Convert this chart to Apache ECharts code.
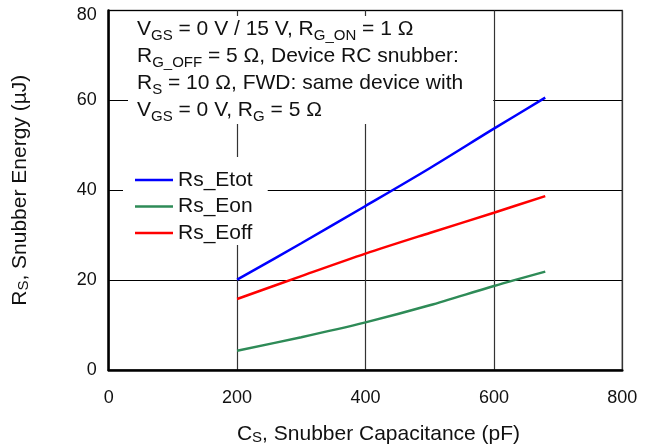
<!DOCTYPE html>
<html>
<head>
<meta charset="utf-8">
<script src="https://cdn.jsdelivr.net/npm/echarts@6/dist/echarts.min.js"></script>
<style>html,body{margin:0;padding:0;background:#fff}#c{width:648px;height:446px}</style>
</head>
<body>
<div id="c"></div>
<script>
const capacitance = [200, 300, 400, 500, 600, 680];
const rsEtot = [20.1, 28.2, 36.5, 44.9, 53.7, 60.6];
const rsEon  = [4.3, 7.3, 10.6, 14.4, 18.7, 21.9];
const rsEoff = [15.8, 20.9, 25.9, 30.5, 35.0, 38.7];
const xTicks = [0, 200, 400, 600, 800];
const yTicks = [0, 20, 40, 60, 80];
const seriesNames = ['Rs_Etot', 'Rs_Eon', 'Rs_Eoff'];
const noteLines = [
  'V{s|GS} = 0 V / 15 V, R{s|G_ON} = 1 Ω',
  'R{s|G_OFF} = 5 Ω, Device RC snubber:',
  'R{s|S} = 10 Ω, FWD: same device with',
  'V{s|GS} = 0 V, R{s|G} = 5 Ω'
];

const FONT = '"Liberation Sans", Arial, Helvetica, sans-serif';
const pair = (xs, ys) => xs.map((x, i) => [x, ys[i]]);
const subRich = { s: { fontSize: 15, fontFamily: FONT, color: '#111', verticalAlign: 'bottom', lineHeight: 17 } };
const yMax = yTicks[yTicks.length - 1];

const chart = echarts.init(document.getElementById('c'), null, { renderer: 'canvas' });
chart.setOption({
  animation: false,
  backgroundColor: '#fff',
  textStyle: { fontFamily: FONT },
  grid: { left: 108.7, right: 25.7, top: 10.5, bottom: 76, outerBoundsMode: 'none', containLabel: false, show: true, borderColor: '#555', borderWidth: 1.5, backgroundColor: 'transparent' },
  title: {
    text: noteLines.join('\n'),
    left: 128, top: 16,
    padding: [0, 30, 0, 9],
    backgroundColor: '#fff',
    textStyle: { fontSize: 21, fontWeight: 'normal', fontFamily: FONT, color: '#111', lineHeight: 27, rich: subRich }
  },
  legend: {
    data: seriesNames,
    orient: 'vertical',
    left: 123, top: 157,
    padding: [12, 15, 1, 12],
    backgroundColor: '#fff',
    icon: 'rect',
    itemWidth: 38, itemHeight: 2.5, itemGap: 4.5,
    textStyle: { fontSize: 21, fontFamily: FONT, color: '#111', lineHeight: 22 }
  },
  xAxis: {
    type: 'value', min: xTicks[0], max: xTicks[xTicks.length - 1], interval: 200,
    name: 'C{s|S}, Snubber Capacitance (pF)',
    nameLocation: 'middle', nameGap: 53,
    nameTextStyle: { fontSize: 21, fontFamily: FONT, color: '#111', lineHeight: 22, padding: [0, 0, 0, 26], rich: subRich },
    axisLine: { show: true, onZero: false, lineStyle: { color: '#000', width: 2.5 } },
    axisTick: { show: false },
    axisLabel: { fontSize: 18, fontFamily: FONT, color: '#111', margin: 19 },
    splitLine: { show: true, lineStyle: { color: '#333', width: 1.2 } }
  },
  yAxis: {
    type: 'value', min: yTicks[0], max: yMax, interval: 20,
    name: 'R{s|S}, Snubber Energy (µJ)',
    nameLocation: 'middle', nameGap: 77, nameRotate: 90,
    nameTextStyle: { fontSize: 21, fontFamily: FONT, color: '#111', lineHeight: 22, rich: subRich },
    axisLine: { show: true, onZero: false, lineStyle: { color: '#000', width: 2.5 } },
    axisTick: { show: false },
    axisLabel: {
      fontSize: 18, fontFamily: FONT, color: '#111', margin: 12,
      formatter: v => v === yMax ? '{t|' + v + '}' : String(v),
      rich: { t: { fontSize: 18, fontFamily: FONT, color: '#111', padding: [10, 0, 0, 0] } }
    },
    splitLine: { show: true, lineStyle: { color: '#000', width: 1 } }
  },
  series: [
    { name: seriesNames[0], type: 'line', data: pair(capacitance, rsEtot), smooth: 0.3, symbol: 'none', lineStyle: { color: '#0000ff', width: 2.5 }, itemStyle: { color: '#0000ff' } },
    { name: seriesNames[1], type: 'line', data: pair(capacitance, rsEon), smooth: 0.3, symbol: 'none', lineStyle: { color: '#2e8b57', width: 2.5 }, itemStyle: { color: '#2e8b57' } },
    { name: seriesNames[2], type: 'line', data: pair(capacitance, rsEoff), smooth: 0.3, symbol: 'none', lineStyle: { color: '#ff0000', width: 2.5 }, itemStyle: { color: '#ff0000' } }
  ]
});
</script>
</body>
</html>
